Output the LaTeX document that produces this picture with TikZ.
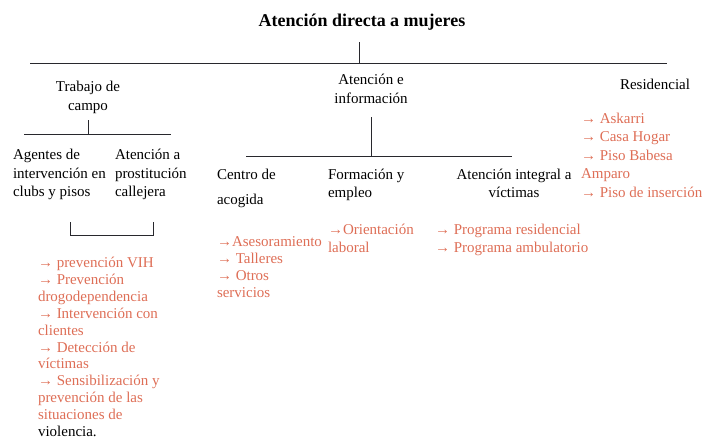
\documentclass[tikz,border=0pt]{standalone}
\usepackage{fontspec}
\setmainfont{Liberation Serif}
\definecolor{salmon}{RGB}{222,110,86}
\definecolor{linecol}{RGB}{40,40,45}
\begin{document}
\begin{tikzpicture}[x=1pt,y=-1pt,
  txt/.style={inner sep=0pt, outer sep=0pt, font=\fontsize{15}{18.5}\selectfont},
  head/.style={txt, align=left, anchor=north west},
  lst/.style={txt, align=left, anchor=north west, text=salmon},
  conn/.style={line width=0.8pt, draw=linecol}]
\useasboundingbox (0,0) rectangle (706,437);

% title
\node[txt, font=\bfseries\fontsize{18}{20}\selectfont] (title) at (362,22.5) {Atención directa a mujeres};

% level 1
\node[txt, align=center, anchor=north, font=\fontsize{15}{19}\selectfont] (trab) at (88,78.2) {\strut Trabajo de\\campo};
\node[txt, align=center, anchor=north, font=\fontsize{15}{19}\selectfont] (aten) at (371,71.2) {\strut Atención e\\información};
\node[head] (resi) at (620,76.5) {\strut Residencial};

% level 2 under Trabajo de campo
\node[head] (agen) at (13,147) {\strut Agentes de\\intervención en\\clubs y pisos};
\node[head] (prost) at (115,147) {\strut Atención a\\prostitución\\callejera};

% level 2 under Atención e información
\node[head, font=\fontsize{15}{25}\selectfont] (centro) at (217,162) {\strut Centro de\\acogida};
\node[head, font=\fontsize{15}{18}\selectfont] (form) at (328,166.9) {\strut Formación y\\empleo};
\node[txt, align=center, anchor=north, font=\fontsize{15}{18}\selectfont] (integ) at (514,166.9) {\strut Atención integral a\\víctimas};

% lists
\node[lst, font=\fontsize{15}{16.85}\selectfont] (l1) at (38,256) {\strut → prevención VIH\\→ Prevención\\drogodependencia\\→ Intervención con\\clientes\\→ Detección de\\víctimas\\→ Sensibilización y\\prevención de las\\situaciones de\\{\color{black}violencia.}};
\node[lst, font=\fontsize{15}{17}\selectfont] (l2) at (217,234.6) {\strut →Asesoramiento\\→ Talleres\\→ Otros\\servicios};
\node[lst, font=\fontsize{15}{18}\selectfont] (l3) at (328,221.9) {\strut →Orientación\\laboral};
\node[lst, font=\fontsize{15}{18}\selectfont] (l4) at (435,221.9) {\strut → Programa residencial\\→ Programa ambulatorio};
\node[lst] (l5) at (581,110.5) {\strut → Askarri\\→ Casa Hogar\\→ Piso Babesa\\Amparo\\→ Piso de inserción};

% connectors
\coordinate (t0) at (359,42);
\coordinate (t1) at (359,63);
\coordinate (hl) at (30,63);
\coordinate (hr) at (667,63);
\draw[conn] (t0) -- (t1);
\draw[conn] (hl) -- (hr);

\coordinate (a0) at (88,120);
\coordinate (a1) at (88,134);
\coordinate (al) at (24,134);
\coordinate (ar) at (171,134);
\draw[conn] (a0) -- (a1);
\draw[conn] (al) -- (ar);

\coordinate (b0) at (70,222);
\coordinate (b1) at (70,235);
\coordinate (b2) at (153,235);
\coordinate (b3) at (153,222);
\draw[conn] (b0) -- (b1) -- (b2) -- (b3);

\coordinate (c0) at (371,117);
\coordinate (c1) at (371,156);
\coordinate (cl) at (246,156);
\coordinate (cr) at (512,156);
\draw[conn] (c0) -- (c1);
\draw[conn] (cl) -- (cr);
\end{tikzpicture}
\end{document}
